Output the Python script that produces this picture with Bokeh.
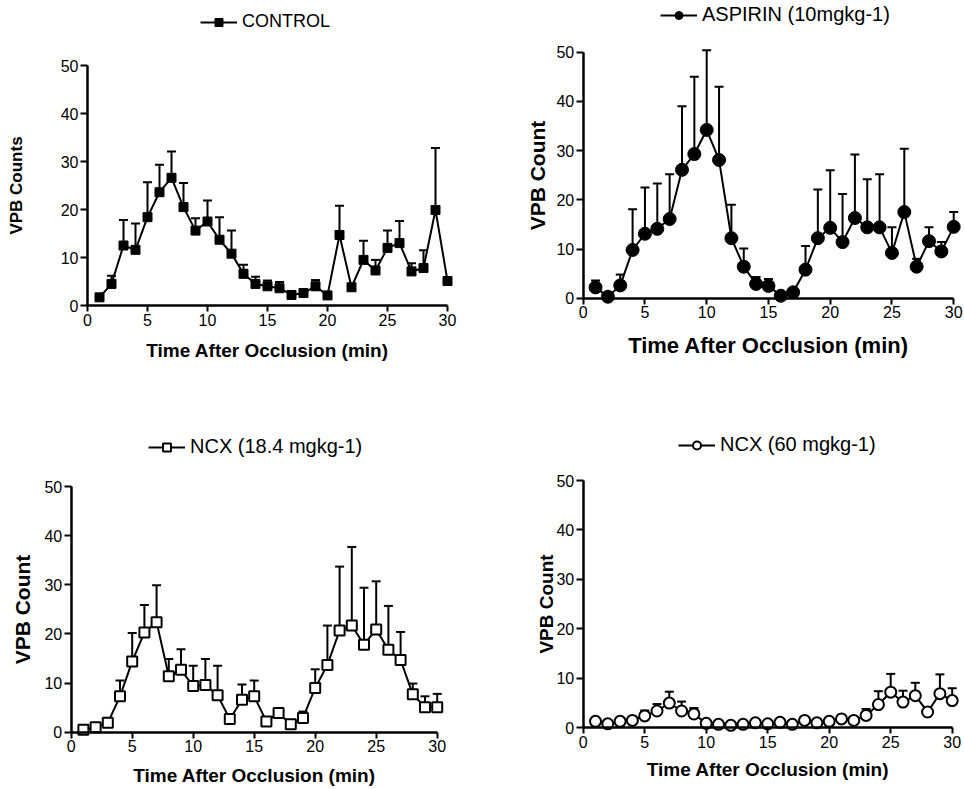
from bokeh.plotting import figure
from bokeh.models import Legend, LegendItem, ColumnDataSource, Range1d
from bokeh.layouts import column, row
from bokeh.embed import file_html
from bokeh.resources import INLINE

nan = float("nan")

minutes = list(range(1, 31))
x_ticks = [0, 5, 10, 15, 20, 25, 30]
y_ticks = [0, 10, 20, 30, 40, 50]

control = [1.7, 4.5, 12.5, 11.6, 18.4, 23.6, 26.6, 20.5, 15.6, 17.5, 13.7, 10.8, 6.6, 4.5, 4.0,
           3.6, 2.2, 2.6, 4.0, 2.1, 14.7, 3.8, 9.5, 7.3, 12.0, 13.0, 7.1, 7.8, 19.9, 5.1]
control_upper = [nan, 6.2, 17.8, 17.1, 25.7, 29.3, 32.1, 25.5, 18.2, 21.9, 18.4, 15.6, 8.5, 6.0, 5.2,
                 4.9, nan, nan, 5.3, nan, 20.8, nan, 13.5, 9.5, 15.6, 17.6, 8.8, 11.5, 32.8, nan]

aspirin = [2.2, 0.3, 2.6, 9.8, 13.1, 14.1, 16.1, 26.1, 29.3, 34.2, 28.1, 12.2, 6.4, 2.9, 2.5,
           0.5, 1.2, 5.8, 12.2, 14.3, 11.4, 16.3, 14.4, 14.4, 9.2, 17.5, 6.4, 11.6, 9.5, 14.5]
aspirin_upper = [3.6, nan, 4.8, 18.1, 22.5, 23.3, 25.2, 39.0, 45.0, 50.4, 43.0, 19.0, 10.1, 4.3, 3.9,
                 nan, nan, 10.6, 22.1, 26.0, 21.2, 29.2, 24.2, 25.2, 14.4, 30.4, 8.0, 14.4, 11.4, 17.5]

ncx18 = [0.5, 1.0, 1.9, 7.3, 14.4, 20.3, 22.4, 11.4, 12.7, 9.4, 9.6, 7.5, 2.7, 6.6, 7.3,
         2.2, 3.9, 1.6, 2.9, 9.0, 13.7, 20.7, 21.7, 17.8, 20.9, 16.8, 14.7, 7.7, 5.1, 5.1]
ncx18_upper = [nan, nan, nan, 10.5, 20.2, 25.9, 29.9, 14.9, 16.9, 13.5, 14.9, 13.5, nan, 9.7, 10.5,
               nan, nan, nan, 4.2, 12.8, 21.7, 33.7, 37.7, 29.4, 30.7, 25.7, 20.4, 9.9, 7.3, 7.8]

ncx60 = [1.3, 0.8, 1.3, 1.5, 2.4, 3.4, 5.0, 3.4, 2.8, 0.9, 0.7, 0.5, 0.7, 1.0, 0.8,
         1.1, 0.7, 1.5, 1.0, 1.3, 1.8, 1.5, 2.5, 4.7, 7.2, 5.2, 6.5, 3.2, 6.9, 5.5]
ncx60_upper = [nan, nan, nan, nan, 3.5, 4.8, 7.3, 5.3, 4.0, nan, nan, nan, nan, nan, nan,
               nan, nan, nan, nan, nan, nan, nan, 3.8, 7.4, 10.9, 7.5, 9.1, nan, 10.8, 8.0]

FONT = "Liberation Sans"


def panel(values, upper, name, marker, msize, filled, ylabel, w, h,
          x_zero, px_x, y_zero, px_y, legend_loc, legend_font, ylab_font, ylab_std,
          xlab_font, xlab_std):
    # the frame fills the whole canvas; ranges follow the pixel scale of the original
    x_range = Range1d(-x_zero / px_x, (w - x_zero) / px_x)
    y_range = Range1d(-(h - y_zero) / px_y, y_zero / px_y)
    p = figure(width=w, height=h, x_range=x_range, y_range=y_range,
               output_backend="svg", toolbar_location=None,
               min_border_left=0, min_border_right=0,
               min_border_top=0, min_border_bottom=0)
    p.title.visible = False
    p.outline_line_color = None
    p.grid.visible = False
    p.background_fill_color = "white"

    src = ColumnDataSource(dict(x=minutes, y=values, up=upper))
    p.segment(x0="x", y0="y", x1="x", y1="up", source=src, line_color="black", line_width=2)
    p.scatter(x="x", y="up", source=src, marker="dash", size=9, line_color="black", line_width=2)
    ln = p.line(x="x", y="y", source=src, line_color="black", line_width=2)
    if filled:
        mk = p.scatter(x="x", y="y", source=src, marker=marker, size=msize,
                       fill_color="black", line_color="black", line_width=1)
    else:
        mk = p.scatter(x="x", y="y", source=src, marker=marker, size=msize,
                       fill_color="white", line_color="black", line_width=2)

    for ax in (p.xaxis[0], p.yaxis[0]):
        ax.fixed_location = 0
        ax.axis_line_width = 2.5
        ax.axis_line_color = "black"
        ax.major_tick_line_width = 2
        ax.major_tick_line_color = "black"
        ax.major_tick_in = 0
        ax.minor_tick_line_color = None
        ax.major_label_text_font = FONT
        ax.major_label_text_font_size = "16px"
        ax.major_label_text_color = "black"
        ax.axis_label_text_font = FONT
        ax.axis_label_text_font_style = "bold"
        ax.axis_label_text_color = "black"

    xa = p.xaxis[0]
    xa.ticker = x_ticks
    xa.bounds = (0, 30)
    xa.major_tick_out = 6
    xa.major_label_standoff = 2
    xa.axis_label = "Time After Occlusion (min)"
    xa.axis_label_text_font_size = xlab_font
    xa.axis_label_standoff = xlab_std

    ya = p.yaxis[0]
    ya.ticker = y_ticks
    ya.bounds = (0, 50)
    ya.major_tick_out = 7
    ya.major_label_standoff = 2
    ya.axis_label = ylabel
    ya.axis_label_text_font_size = ylab_font
    ya.axis_label_standoff = ylab_std

    legend = Legend(items=[LegendItem(label=name, renderers=[ln, mk])],
                    location=legend_loc, orientation="horizontal",
                    border_line_color=None, background_fill_alpha=0,
                    padding=0, margin=0, spacing=0,
                    glyph_width=37, glyph_height=20, label_height=20, label_standoff=5,
                    label_text_font=FONT, label_text_font_size=legend_font,
                    label_text_color="black")
    p.add_layout(legend)
    return p


p1 = panel(control, control_upper, "CONTROL", "square", 9, True, "VPB Counts",
           496, 400, 87, 12.0, 305, 4.8, (200, 368), "18px", "17px", 32, "19px", 11)
p2 = panel(aspirin, aspirin_upper, "ASPIRIN (10mgkg-1)", "circle", 13, True, "VPB Count",
           468, 400, 86.7, 12.35, 297.7, 4.92, (164, 374), "20px", "21px", 5, "22px", 11)
p3 = panel(ncx18, ncx18_upper, "NCX (18.4 mgkg-1)", "square", 10, False, "VPB Count",
           496, 389, 70.7, 12.2, 331.7, 4.914, (148, 331), "20px", "21px", 8, "19px", 9)
p4 = panel(ncx60, ncx60_upper, "NCX (60 mgkg-1)", "circle", 11, False, "VPB Count",
           468, 389, 86.7, 12.3, 327.3, 4.946, (182, 333), "20px", "19px", -3, "19px", 8)

layout = column(row(p1, p2), row(p3, p4))
open("out.html", "w").write(file_html(layout, INLINE))
